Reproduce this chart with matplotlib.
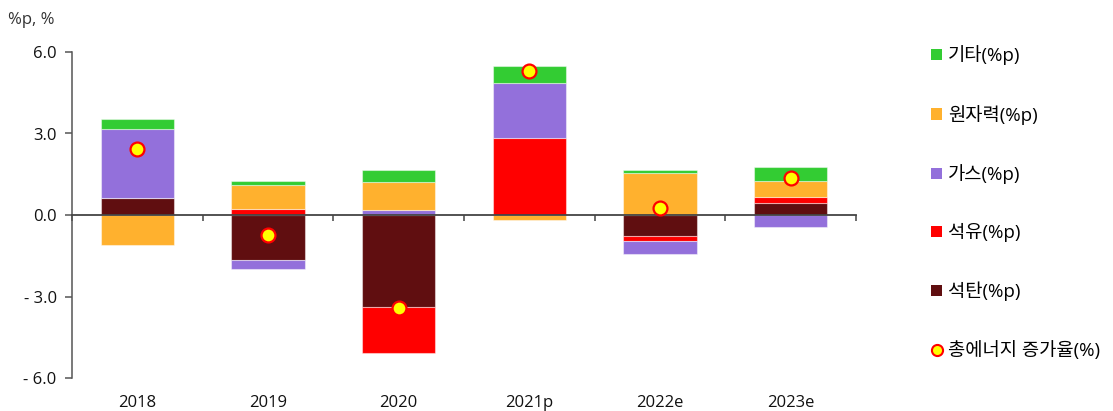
#
# imports
import matplotlib
matplotlib.use("Agg")
import matplotlib.pyplot as plt
import numpy as np
from matplotlib.patches import Patch
from matplotlib.lines import Line2D
#
plt.rcParams['font.family'] = ['Open Sans', 'Noto Sans CJK KR', 'DejaVu Sans']
#
# Data: contribution to total energy growth (%p) and total growth (%)
years = ['2018', '2019', '2020', '2021p', '2022e', '2023e']
coal = [0.63, -1.67, -3.37, 0.00, -0.76, 0.46]
oil = [0.00, 0.21, -1.70, 2.84, -0.18, 0.20]
gas = [2.52, -0.31, 0.17, 2.03, -0.48, -0.46]
nuclear = [-1.09, 0.89, 1.03, -0.20, 1.54, 0.60]
other = [0.37, 0.15, 0.44, 0.61, 0.13, 0.51]
total = [2.42, -0.75, -3.42, 5.30, 0.26, 1.35]
#
series_names = ['석탄(%p)', '석유(%p)', '가스(%p)', '원자력(%p)', '기타(%p)']
series_vals = [coal, oil, gas, nuclear, other]
series_cols = ['#600E10', '#FF0000', '#9370DB', '#FFB12E', '#33CC33']
total_name = '총에너지 증가율(%)'
#
ytick_vals = [-6, -3, 0, 3, 6]
ytick_labels = ['- 6.0', '- 3.0', '0.0', '3.0', '6.0']
#################################################################
fig = plt.figure(figsize=(11.13, 4.11), dpi=100)
ax = fig.add_axes([72/1113, 33/411, (856-72)/1113, 326/411])
#
x = np.arange(len(years))
pos_bottom = np.zeros(len(years))
neg_bottom = np.zeros(len(years))
for vals, col in zip(series_vals, series_cols):
    vals = np.array(vals)
    bottoms = np.where(vals >= 0, pos_bottom, neg_bottom)
    ax.bar(x, vals, width=0.56, bottom=bottoms, color=col,
           edgecolor=(1, 1, 1, 0.45), linewidth=0.8, zorder=1)
    pos_bottom = pos_bottom + np.where(vals > 0, vals, 0)
    neg_bottom = neg_bottom + np.where(vals < 0, vals, 0)
#
ax.plot(x, total, linestyle='none', marker='o', markersize=10,
        markerfacecolor='#FFFF00', markeredgecolor='#FF0000',
        markeredgewidth=1.6, zorder=4)
#
# Axes styling
ax.set_xlim(-0.5, len(years) - 0.5)
ax.set_ylim(-6, 6)
for s in ['top', 'right']:
    ax.spines[s].set_visible(False)
ax.spines['bottom'].set_position(('data', 0))
ax.spines['bottom'].set_color('#444444')
ax.spines['bottom'].set_linewidth(1.3)
ax.spines['bottom'].set_zorder(3)
ax.spines['left'].set_color('#555555')
ax.spines['left'].set_linewidth(1.1)
#
ax.set_xticks(np.arange(-0.5, len(years), 1.0))
ax.set_xticklabels([])
ax.tick_params(axis='x', direction='out', length=4, width=1.1, color='#444444')
ax.set_yticks(ytick_vals)
ax.set_yticklabels(ytick_labels)
ax.tick_params(axis='y', direction='out', length=5, width=1.1, color='#555555',
               labelsize=12, pad=6, labelcolor='#111111')
#
for xi, lab in zip(x, years):
    ax.text(xi, -0.077, lab, transform=ax.get_xaxis_transform(),
            ha='center', va='center', fontsize=12, color='#111111')
#
fig.text(8/1113, 1 - 20/411, '%p, %', fontsize=12, ha='left', va='center',
         color='#333333')
#
# Legend (top to bottom)
handles = []
labels = []
for name, col in zip(series_names[::-1], series_cols[::-1]):
    handles.append(Patch(facecolor=col, edgecolor='none'))
    labels.append(name)
handles.append(Line2D([], [], linestyle='none', marker='o', markersize=8,
                      markerfacecolor='#FFFF00', markeredgecolor='#FF0000',
                      markeredgewidth=1.5))
labels.append(total_name)
fig.legend(handles, labels, loc='upper left', bbox_to_anchor=(922/1113, 1 - 36/411),
           frameon=False, fontsize=13.5, handlelength=0.55, handleheight=0.55,
           handletextpad=0.35, labelspacing=2.1, borderpad=0)
#
fig.savefig('out.png', dpi=100)
